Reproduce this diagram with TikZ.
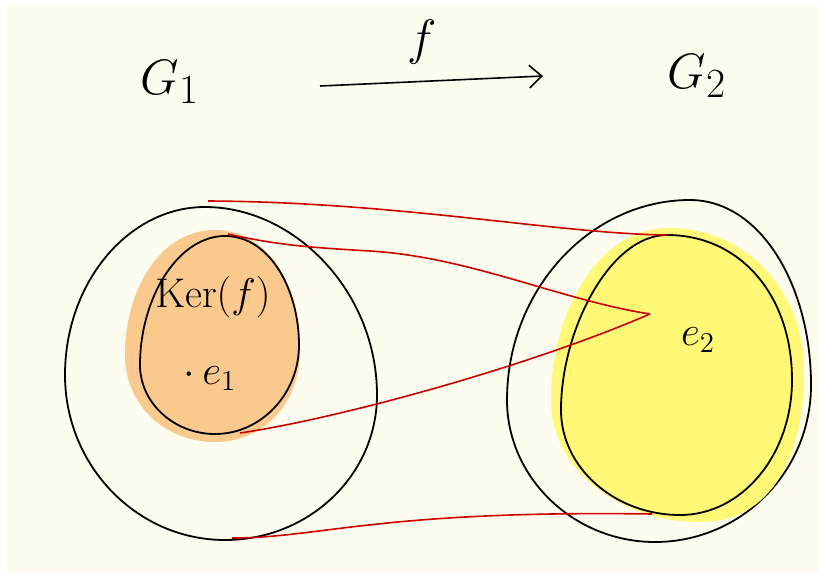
\documentclass[tikz,border=0pt]{standalone}
\usepackage{amsmath,amssymb}
\usepackage{xcolor}
\usepackage{tikz}
\usetikzlibrary{arrows.meta,positioning,calc}
\definecolor{paperbg}{HTML}{FEFCEE}
\definecolor{kernelfill}{HTML}{F9C98D}
\definecolor{imagefill}{HTML}{FFF977}
\definecolor{mapred}{HTML}{CC0000}
\tikzset{
  grouplabel/.style={font=\fontsize{30}{30}\selectfont,inner sep=0pt},
  eltlabel/.style={font=\fontsize{21}{21}\selectfont,inner sep=0pt},
  setline/.style={draw=black,line width=0.9pt},
  mapline/.style={draw=mapred,line width=0.8pt},
  maparrow/.style={-{Straight Barb[length=2.2mm,width=4mm]},line width=0.8pt}
}

\begin{document}
\begin{tikzpicture}[x=0.5pt,y=-0.5pt]
  \useasboundingbox (0,0) rectangle (819,578);
  \fill[white] (0,0) rectangle (819,578);
  \fill[paperbg] (6,5) rectangle (819,572);
  % sets G1 and Ker(f)
  \draw[setline] (205,207) .. controls (295,207) and (377,292) .. (377,395)
    .. controls (377,475) and (309,540) .. (225,540)
    .. controls (137,540) and (65,466) .. (65,375)
    .. controls (65,283) and (128,207) .. cycle;
  \fill[kernelfill] (215,230) .. controls (268,230) and (300,285) .. (300,350)
    .. controls (300,405) and (262,442) .. (215,442)
    .. controls (165,442) and (125,405) .. (125,355)
    .. controls (125,290) and (160,230) .. cycle;
  \draw[setline] (225,236) .. controls (270,236) and (299,290) .. (299,345)
    .. controls (299,394) and (261,434) .. (215,434)
    .. controls (174,434) and (140,403) .. (140,365)
    .. controls (140,298) and (178,236) .. cycle;
  % sets G2 and the image
  \draw[setline] (690,200) .. controls (760,200) and (811,285) .. (811,385)
    .. controls (811,472) and (741,542) .. (655,542)
    .. controls (574,542) and (507,478) .. (507,400)
    .. controls (507,290) and (590,200) .. cycle;
  \fill[imagefill] (668,228) .. controls (745,228) and (804,290) .. (804,370)
    .. controls (804,460) and (770,522) .. (700,522)
    .. controls (620,522) and (551,470) .. (551,400)
    .. controls (551,310) and (600,228) .. cycle;
  \draw[setline] (667,235) .. controls (740,235) and (792,295) .. (792,380)
    .. controls (792,455) and (742,515) .. (680,515)
    .. controls (615,515) and (561,468) .. (561,410)
    .. controls (561,330) and (610,235) .. cycle;

  \node[grouplabel] (gone) at (170,82) {$G_1$};
  \node[grouplabel] (gtwo) at (697,76) {$G_2$};
  \coordinate (fstart) at (320,86);
  \coordinate (fend) at (543,76);
  \draw[maparrow] (fstart) -- (fend);
  \node[grouplabel] (fmap) at (422,42) {$f$};

  \node[eltlabel] (kerf) at (213,297) {$\mathrm{Ker}(f)$};
  \node[eltlabel] (eone) at (210,378) {$\cdot\, e_1$};
  \node[eltlabel] (etwo) at (698,340) {$e_2$};

  \coordinate (gonetop) at (208,201);
  \coordinate (kertop) at (228,234);
  \coordinate (kerbot) at (240,433);
  \coordinate (gonebot) at (232,538);
  \coordinate (imtop) at (667,235);
  \coordinate (etwopt) at (650,314);
  \coordinate (imbot) at (652,514);
  \draw[mapline] (gonetop) .. controls (400,202) and (560,234) .. (imtop);
  \draw[mapline] (kertop) .. controls (280,246) and (320,248) .. (370,251)
    .. controls (470,257) and (560,300) .. (etwopt);
  \draw[mapline] (kerbot) .. controls (330,420) and (520,370) .. (etwopt);
  \draw[mapline] (gonebot) .. controls (320,538) and (380,510) .. (imbot);
\end{tikzpicture}
\end{document}
